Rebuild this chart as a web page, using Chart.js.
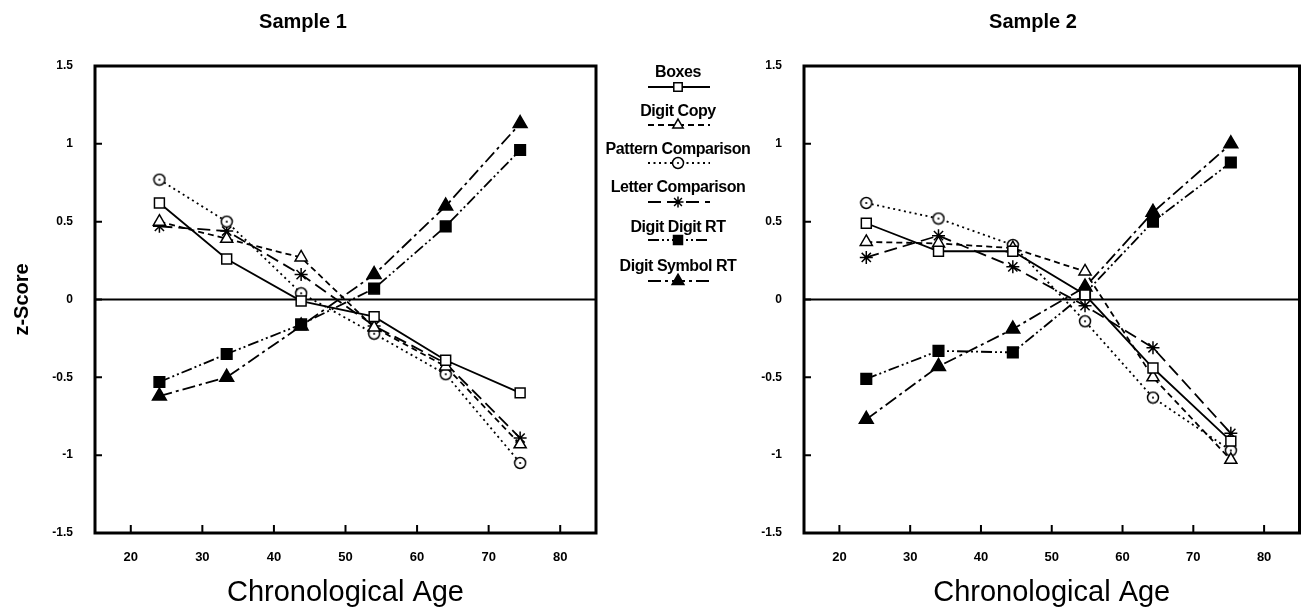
<!DOCTYPE html>
<html>
<head>
<meta charset="utf-8">
<script src="https://cdn.jsdelivr.net/npm/chart.js@4.4.1/dist/chart.umd.min.js"></script>
<style>
  html, body { margin: 0; padding: 0; background: #fff; }
  body { width: 1309px; height: 611px; position: relative; overflow: hidden; font-family: 'Liberation Sans', Arial, sans-serif; }
  canvas { position: absolute; top: 0; }
  #c1 { left: 0; }
  #c2 { left: 740px; }
  .lg-label { position: absolute; left: 588px; width: 180px; text-align: center; font-weight: bold; font-size: 16px; letter-spacing: -0.45px; line-height: 18px; color: #000; }
  .lg-line { position: absolute; left: 645px; }
</style>
</head>
<body>
<canvas id="c1" width="610" height="611"></canvas>
<canvas id="c2" width="569" height="611"></canvas>
<div id="legend"></div>
<script>
// series names (legend order)
const seriesNames = ["Boxes", "Digit Copy", "Pattern Comparison", "Letter Comparison", "Digit Digit RT", "Digit Symbol RT"];

// Sample 1 - age group means and z-scores
const ages1 = [24.0, 33.4, 43.8, 54.0, 64.0, 74.4];
const boxes1 = [0.62, 0.26, -0.01, -0.11, -0.39, -0.60];
const digitCopy1 = [0.50, 0.39, 0.27, -0.18, -0.43, -0.93];
const pattern1 = [0.77, 0.50, 0.04, -0.22, -0.48, -1.05];
const letter1 = [0.47, 0.44, 0.16, -0.17, -0.41, -0.89];
const digitDigit1 = [-0.53, -0.35, -0.16, 0.07, 0.47, 0.96];
const digitSymbol1 = [-0.62, -0.50, -0.17, 0.16, 0.60, 1.13];

// Sample 2
const ages2 = [23.8, 34.0, 44.5, 54.7, 64.3, 75.3];
const boxes2 = [0.49, 0.31, 0.31, 0.03, -0.44, -0.91];
const digitCopy2 = [0.37, 0.36, 0.33, 0.18, -0.50, -1.03];
const pattern2 = [0.62, 0.52, 0.35, -0.14, -0.63, -0.97];
const letter2 = [0.27, 0.41, 0.21, -0.04, -0.31, -0.86];
const digitDigit2 = [-0.51, -0.33, -0.34, 0.04, 0.50, 0.88];
const digitSymbol2 = [-0.77, -0.43, -0.19, 0.08, 0.56, 1.00];

const xTicks = [20, 30, 40, 50, 60, 70, 80];
const yTicks = [-1.5, -1, -0.5, 0, 0.5, 1, 1.5];

Chart.defaults.font.family = "'Liberation Sans', Arial, sans-serif";
Chart.defaults.color = '#000';

// open circle with a centre dot
function dottedCircle() {
  const c = document.createElement('canvas');
  c.width = 14; c.height = 14;
  const g = c.getContext('2d');
  g.fillStyle = '#fff';
  g.strokeStyle = '#000';
  g.lineWidth = 1.5;
  g.beginPath(); g.arc(7, 7, 5.5, 0, Math.PI * 2); g.fill(); g.stroke();
  g.fillStyle = '#000';
  g.beginPath(); g.arc(7, 7, 1.1, 0, Math.PI * 2); g.fill();
  return c;
}
const circleImg = dottedCircle();

const styles = [
  { dash: [], point: 'rect', r: 7, fill: '#fff' },
  { dash: [6, 4], point: 'triangle', r: 7, fill: '#fff' },
  { dash: [2, 3.5], point: circleImg, r: 6, fill: '#fff' },
  { dash: [13, 6], point: 'star', r: 6.5, fill: '#fff' },
  { dash: [11, 3, 2, 3, 2, 3], point: 'rect', r: 7.5, fill: '#000' },
  { dash: [13, 4, 3, 4], point: 'triangle', r: 8, fill: '#000' }
];

function pts(ages, vals) {
  return vals.map((v, i) => ({ x: ages[i], y: v }));
}

function makeDatasets(ages, lists) {
  return lists.map((vals, i) => ({
    label: seriesNames[i],
    data: pts(ages, vals),
    borderColor: '#000',
    borderWidth: 1.8,
    borderDash: styles[i].dash,
    pointStyle: styles[i].point,
    pointRadius: styles[i].r,
    pointBackgroundColor: styles[i].fill,
    pointBorderColor: '#000',
    pointBorderWidth: 1.5,
    tension: 0,
    fill: false
  }));
}

const framePlugin = {
  id: 'frame',
  beforeDatasetsDraw(chart) {
    const { ctx, chartArea: a, scales } = chart;
    const y0 = scales.y.getPixelForValue(0);
    ctx.save();
    ctx.strokeStyle = '#000';
    ctx.lineWidth = 2;
    ctx.beginPath();
    ctx.moveTo(a.left, y0);
    ctx.lineTo(a.right, y0);
    ctx.stroke();
    ctx.restore();
  },
  afterDraw(chart) {
    const { ctx, chartArea: a, scales } = chart;
    ctx.save();
    ctx.strokeStyle = '#000';
    ctx.setLineDash([]);
    ctx.lineWidth = 3;
    ctx.strokeRect(a.left, a.top, a.right - a.left, a.bottom - a.top);
    ctx.lineWidth = 2;
    ctx.beginPath();
    scales.y.ticks.forEach(t => {
      const py = scales.y.getPixelForValue(t.value);
      ctx.moveTo(a.left, py);
      ctx.lineTo(a.left + 7, py);
    });
    scales.x.ticks.forEach(t => {
      const px = scales.x.getPixelForValue(t.value);
      ctx.moveTo(px, a.bottom);
      ctx.lineTo(px, a.bottom - 8);
    });
    ctx.stroke();
    ctx.restore();
  }
};

function makeChart(id, title, ages, lists, opt) {
  return new Chart(document.getElementById(id), {
    type: 'line',
    data: { datasets: makeDatasets(ages, lists) },
    plugins: [framePlugin],
    options: {
      responsive: false,
      animation: false,
      layout: { padding: { left: opt.padLeft, right: opt.padRight, top: 0, bottom: 0 } },
      plugins: {
        legend: { display: false },
        tooltip: { enabled: false },
        title: {
          display: true,
          text: title,
          font: { size: 20, weight: 'bold' },
          padding: { top: 10, bottom: 32 }
        }
      },
      scales: {
        x: {
          type: 'linear',
          min: 15,
          max: 85,
          afterBuildTicks: s => { s.ticks = xTicks.map(v => ({ value: v })); },
          afterFit: s => { s.height = 78; },
          grid: { display: false },
          border: { display: false },
          ticks: { font: { size: 13, weight: 'bold' }, padding: 9, maxRotation: 0 },
          title: {
            display: true,
            text: 'Chronological Age',
            font: { size: 29 },
            padding: { top: 0, bottom: 1 }
          }
        },
        y: {
          min: -1.5,
          max: 1.5,
          afterBuildTicks: s => { s.ticks = yTicks.map(v => ({ value: v })); },
          afterFit: s => { s.width = opt.yWidth; },
          grid: { display: false },
          border: { display: false },
          ticks: { font: { size: 12, weight: 'bold' }, padding: 14, callback: v => String(v) },
          title: {
            display: opt.yTitle,
            text: 'z-Score',
            font: { size: 20, weight: 'bold' },
            padding: { top: 0, bottom: 0 }
          }
        }
      }
    }
  });
}

const chart1 = makeChart('c1', 'Sample 1', ages1,
  [boxes1, digitCopy1, pattern1, letter1, digitDigit1, digitSymbol1],
  { padLeft: 10, padRight: 14, yWidth: 85, yTitle: true });
const chart2 = makeChart('c2', 'Sample 2', ages2,
  [boxes2, digitCopy2, pattern2, letter2, digitDigit2, digitSymbol2],
  { padLeft: 20, padRight: 3, yWidth: 44, yTitle: false });

// legend between the two panels
const labelY = [72, 111, 149, 187, 227, 266];
const lineY = [87, 125, 163, 202, 240, 281];
const legend = document.getElementById('legend');
seriesNames.forEach((name, i) => {
  const lab = document.createElement('div');
  lab.className = 'lg-label';
  lab.textContent = name;
  lab.style.top = (labelY[i] - 9) + 'px';
  legend.appendChild(lab);

  const cv = document.createElement('canvas');
  cv.className = 'lg-line';
  cv.width = 68; cv.height = 20;
  cv.style.top = (lineY[i] - 10) + 'px';
  legend.appendChild(cv);
  const g = cv.getContext('2d');
  g.strokeStyle = '#000';
  g.lineWidth = 1.8;
  g.setLineDash(styles[i].dash);
  g.beginPath(); g.moveTo(3, 10); g.lineTo(65, 10); g.stroke();
  g.setLineDash([]);
  g.fillStyle = styles[i].fill;
  g.lineWidth = 1.5;
  if (Chart.helpers && Chart.helpers.drawPoint) {
    Chart.helpers.drawPoint(g, { pointStyle: styles[i].point, radius: styles[i].r * 0.85, borderWidth: 1.5, rotation: 0 }, 33, 10);
  }
});
</script>
</body>
</html>
